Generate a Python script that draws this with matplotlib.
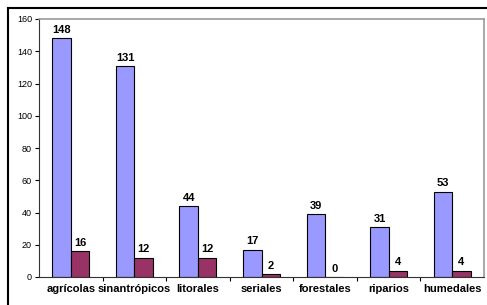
import numpy as np
import matplotlib
matplotlib.use('Agg')
import matplotlib.pyplot as plt
from matplotlib.lines import Line2D

plt.rcParams['font.family'] = ['Liberation Sans', 'DejaVu Sans']

categories = ['agrícolas', 'sinantrópicos', 'litorales', 'seriales',
              'forestales', 'riparios', 'humedales']
serie_a = [148, 131, 44, 17, 39, 31, 53]
serie_b = [16, 12, 12, 2, 0, 4, 4]

W, H = 487, 305
fig = plt.figure(figsize=(W / 100, H / 100), dpi=100)
ax = fig.add_axes([39 / W, 1 - 277 / H, (484 - 39) / W, (277 - 19) / H])

x = np.arange(len(categories))
bw = 0.29
ax.bar(x - bw / 2, serie_a, bw, color='#9999FF', edgecolor='black', linewidth=0.8)
ax.bar(x + bw / 2, serie_b, bw, color='#993366', edgecolor='black', linewidth=0.8)

for xi, v in zip(x, serie_a):
    ax.text(xi - bw / 2, v + 2, str(v), ha='center', va='bottom',
            fontsize=8, fontweight='bold')
for xi, v in zip(x, serie_b):
    ax.text(xi + bw / 2, v + 2, str(v), ha='center', va='bottom',
            fontsize=8, fontweight='bold')

ax.set_xlim(-0.5, len(categories) - 0.5)
ax.set_ylim(0, 160)
ax.set_yticks(range(0, 161, 20))
ax.tick_params(axis='y', labelsize=6.5, length=3, width=0.8, pad=2)

ax.set_xticks(x)
ax.set_xticklabels(categories, fontsize=8, fontweight='bold')
ax.tick_params(axis='x', length=0, pad=5)
ax.set_xticks(np.arange(0.5, len(categories) - 0.5, 1), minor=True)
ax.tick_params(axis='x', which='minor', length=3, width=0.8, direction='out')

for s in ['top', 'right']:
    ax.spines[s].set_color('#999999')
    ax.spines[s].set_linewidth(1.2)
ax.spines['left'].set_color('#333333')
ax.spines['bottom'].set_color('#333333')
ax.spines['left'].set_linewidth(0.8)
ax.spines['bottom'].set_linewidth(0.8)

# outer chart frame
fig.add_artist(Line2D([8 / W, 1], [1 - 8 / H, 1 - 8 / H], color='black', lw=1.5))
fig.add_artist(Line2D([8 / W, 8 / W], [0, 1 - 8 / H], color='black', lw=1.5))

fig.savefig('out.png', dpi=100)
